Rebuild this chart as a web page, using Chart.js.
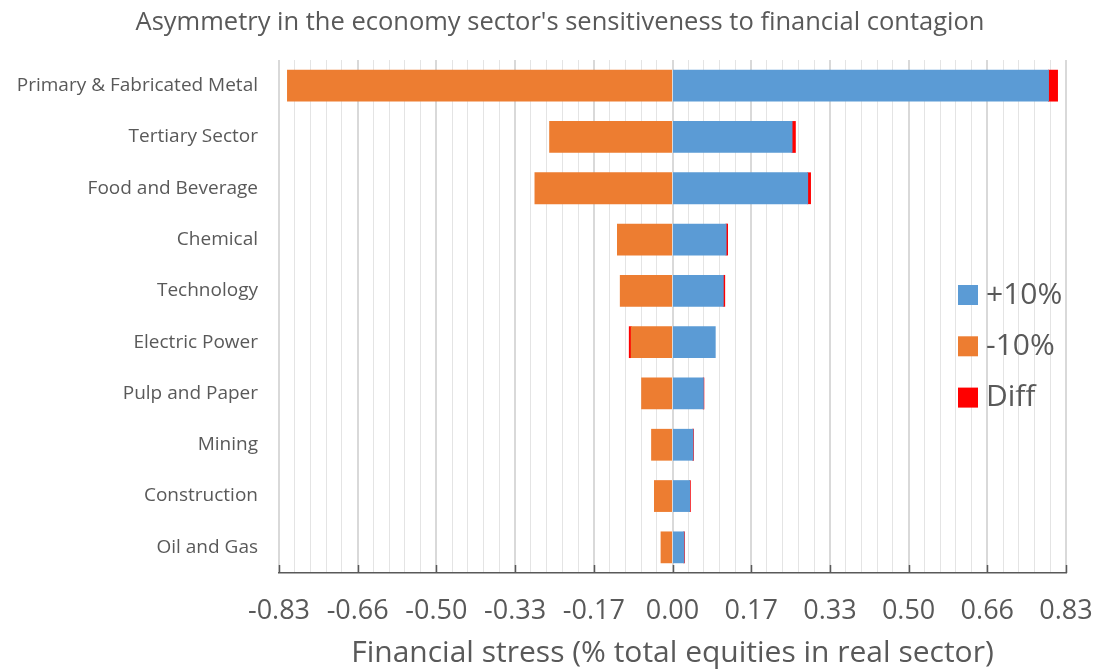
<!DOCTYPE html>
<html>
<head>
<meta charset="utf-8">
<script src="https://cdn.jsdelivr.net/npm/chart.js@4/dist/chart.umd.min.js"></script>
<style>
  html, body { margin: 0; padding: 0; background: #fff; }
  #wrap { width: 1094px; height: 669px; }
</style>
</head>
<body>
<div id="wrap"><canvas id="myChart"></canvas></div>

<script>
    // data
    var categories = ['Primary & Fabricated Metal', 'Tertiary Sector', 'Food and Beverage', 'Chemical', 'Technology',
                      'Electric Power', 'Pulp and Paper', 'Mining', 'Construction', 'Oil and Gas'];
    var plus10  = [0.793, 0.252, 0.285, 0.113, 0.107, 0.090, 0.065, 0.043, 0.036, 0.024];
    var minus10 = [-0.812, -0.259, -0.290, -0.116, -0.110, -0.087, -0.065, -0.044, -0.038, -0.024];
    var diff    = [0.019, 0.007, 0.006, 0.003, 0.003, -0.004, 0.001, 0.001, 0.0015, 0.001];

    var tickLabels = ['-0.83', '-0.66', '-0.50', '-0.33', '-0.17', '0.00', '0.17', '0.33', '0.50', '0.66', '0.83'];
    var axisMax = 0.83;
    var minorPerMajor = 5;

    var chartTitle = "Asymmetry in the economy sector's sensitiveness to financial contagion";
    var xTitle = 'Financial stress (% total equities in real sector)';

    var grey = '#595959';
    var font = '"Open Sans", sans-serif';

    // title, inner tick marks and the legend drawn by hand (Excel style)
    var extras = {
        id: 'extras',
        afterDraw: function (chart) {
            var ctx = chart.ctx;
            var x = chart.scales.x;
            var area = chart.chartArea;
            ctx.save();

            ctx.fillStyle = grey;
            ctx.font = '25.5px ' + font;
            ctx.textAlign = 'center';
            ctx.textBaseline = 'middle';
            ctx.fillText(chartTitle, 560, 23);

            ctx.strokeStyle = grey;
            ctx.lineWidth = 1.5;
            ctx.beginPath();
            x.ticks.forEach(function (t, i) {
                if (i % minorPerMajor !== 0) return;
                var px = Math.round(x.getPixelForValue(t.value)) + 0.5;
                ctx.moveTo(px, area.bottom - 8);
                ctx.lineTo(px, area.bottom);
            });
            ctx.stroke();

            ctx.font = '30px ' + font;
            ctx.textAlign = 'left';
            chart.data.datasets.forEach(function (ds, i) {
                var y = 295 + i * 51.3;
                ctx.fillStyle = ds.backgroundColor;
                ctx.fillRect(958, y - 10, 20, 20);
                ctx.fillStyle = grey;
                ctx.fillText(ds.label, 986, y);
            });
            ctx.restore();
        }
    };

    function createGraph() {
        var ctx = document.getElementById('myChart').getContext('2d');
        var chart = new Chart(ctx, {
            type: 'bar',
            data: {
                labels: categories,
                datasets: [
                    { label: '+10%', data: plus10, backgroundColor: '#5B9BD5' },
                    { label: '-10%', data: minus10, backgroundColor: '#ED7D31' },
                    { label: 'Diff', data: diff, backgroundColor: '#FF0000' }
                ]
            },
            options: {
                indexAxis: 'y',
                responsive: true,
                maintainAspectRatio: false,
                animation: false,
                datasets: { bar: { categoryPercentage: 1, barPercentage: 0.6, borderWidth: 0, inflateAmount: 0.5 } },
                layout: { padding: { top: 60, right: 28, left: 0, bottom: 0 } },
                plugins: {
                    legend: { display: false },
                    title: { display: false },
                    tooltip: { enabled: false }
                },
                scales: {
                    x: {
                        stacked: true,
                        min: -axisMax,
                        max: axisMax,
                        afterBuildTicks: function (scale) {
                            var n = (tickLabels.length - 1) * minorPerMajor;
                            var ticks = [];
                            for (var i = 0; i <= n; i++) {
                                ticks.push({ value: -axisMax + 2 * axisMax * i / n });
                            }
                            scale.ticks = ticks;
                        },
                        afterFit: function (scale) {
                            scale.height = 96;
                            scale.paddingLeft = 0;
                            scale.paddingRight = 0;
                        },
                        grid: {
                            drawTicks: false,
                            color: function (c) { return c.index % minorPerMajor === 0 ? '#d9d9d9' : '#e4e4e4'; },
                            lineWidth: function (c) { return c.index % minorPerMajor === 0 ? 2 : 1; }
                        },
                        border: { display: true, color: grey, width: 1.5 },
                        ticks: {
                            autoSkip: false,
                            maxRotation: 0,
                            padding: 22,
                            color: grey,
                            font: { family: font, size: 27 },
                            callback: function (v, i) {
                                return i % minorPerMajor === 0 ? tickLabels[i / minorPerMajor] : '';
                            }
                        },
                        title: {
                            display: true,
                            text: xTitle,
                            color: grey,
                            font: { family: font, size: 30 },
                            padding: { top: 0, bottom: -2 }
                        }
                    },
                    y: {
                        stacked: true,
                        afterFit: function (scale) { scale.width = 279; },
                        grid: { display: false, drawTicks: false },
                        border: { display: false },
                        ticks: {
                            padding: 21,
                            color: grey,
                            font: { family: font, size: 19 }
                        }
                    }
                }
            },
            plugins: [extras]
        });
    }

    createGraph();
</script>
</body>
</html>
